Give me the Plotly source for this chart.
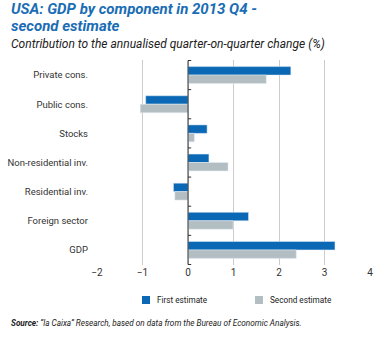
import plotly.graph_objects as go

# Contributions to annualised q-o-q GDP change, 2013 Q4 (percentage points)
categories = ["Private cons.", "Public cons.", "Stocks", "Non-residential inv.",
              "Residential inv.", "Foreign sector", "GDP"]
first_estimate = [2.26, -0.93, 0.42, 0.46, -0.32, 1.33, 3.23]
second_estimate = [1.72, -1.05, 0.14, 0.88, -0.29, 0.99, 2.38]
x_ticks = [-2, -1, 0, 1, 2, 3, 4]
series_names = ["First estimate", "Second estimate"]

BLUE = "#0a68b4"
GREY = "#b3bec3"
FONT = "Roboto"

W, H = 382, 338
L, R, T, B = 97, 12, 60, 73
PW, PH = W - L - R, H - T - B


def px_x(p):
    """Paper x coordinate for a pixel column."""
    return (p - L) / PW


def px_y(p):
    """Paper y coordinate for a pixel row (from the top)."""
    return (H - B - p) / PH


fig = go.Figure()
fig.add_trace(go.Bar(y=categories, x=first_estimate, orientation="h",
                     name=series_names[0], marker_color=BLUE, showlegend=False))
fig.add_trace(go.Bar(y=categories, x=second_estimate, orientation="h",
                     name=series_names[1], marker_color=GREY, showlegend=False))

# Vertical axis line at zero with ticks on category boundaries
n = len(categories)
fig.add_shape(type="line", xref="x", yref="y", x0=0, x1=0, y0=-0.5, y1=n - 0.5,
              line=dict(color="#333333", width=1))
for i in range(n + 1):
    fig.add_shape(type="line", xref="x", yref="y", x0=0, x1=0.07,
                  y0=i - 0.5, y1=i - 0.5, line=dict(color="#333333", width=1))

annotations = [
    dict(text="USA: GDP by component in 2013 Q4 -", x=px_x(9), y=px_y(9),
         font=dict(family=FONT, size=15, color="#1a6db4",
                   weight="bold", style="italic")),
    dict(text="second estimate", x=px_x(9), y=px_y(25.5),
         font=dict(family=FONT, size=15, color="#1a6db4",
                   weight="bold", style="italic")),
    dict(text="Contribution to the annualised quarter-on-quarter change (%)",
         x=px_x(9), y=px_y(44),
         font=dict(family=FONT, size=12, color="#222222", style="italic")),
    dict(text="<b>Source:</b> \u201cla Caixa\u201d Research, based on data from the Bureau of Economic Analysis.",
         x=px_x(9), y=px_y(323),
         font=dict(family=FONT, size=8.2, color="#222222", style="italic")),
]

# Legend: small squares with labels beneath the chart
legend_items = [(series_names[0], BLUE, 142), (series_names[1], GREY, 255)]
for name, col, x0 in legend_items:
    fig.add_shape(type="rect", xref="paper", yref="paper",
                  x0=px_x(x0), x1=px_x(x0 + 8), y0=px_y(304), y1=px_y(296),
                  fillcolor=col, line=dict(width=0))
    annotations.append(dict(text=name, x=px_x(x0 + 13), y=px_y(300),
                            font=dict(family=FONT, size=8.2, color="#222222")))

for a in annotations:
    a.update(xref="paper", yref="paper", xanchor="left", yanchor="middle",
             showarrow=False)

fig.update_layout(
    width=W, height=H,
    margin=dict(l=L, r=R, t=T, b=B, autoexpand=False),
    paper_bgcolor="white", plot_bgcolor="white",
    barmode="group", bargap=0.42, bargroupgap=0,
    font=dict(family=FONT, size=10, color="#333333"),
    showlegend=False,
    xaxis=dict(range=[-2, 4], tickvals=x_ticks, showgrid=True,
               gridcolor="#cccccc", gridwidth=1, zeroline=False,
               showline=False, ticks="", tickfont=dict(size=10),
               automargin=False),
    yaxis=dict(type="category", autorange="reversed", showgrid=False,
               showline=False, ticks="", ticklabelstandoff=8,
               tickfont=dict(size=9.5), automargin=False),
    annotations=annotations,
)

fig.write_html("out.html")
